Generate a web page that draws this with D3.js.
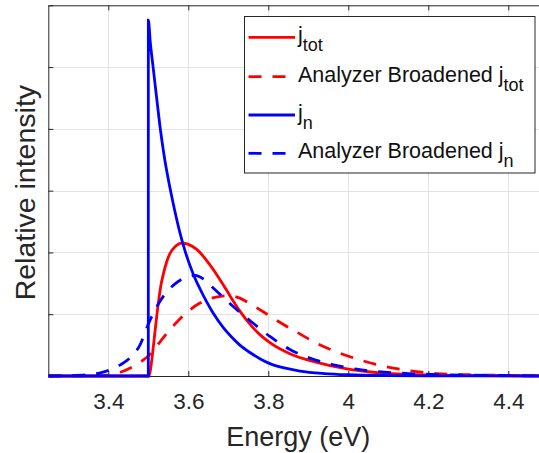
<!DOCTYPE html>
<html>
<head>
<meta charset="utf-8">
<script src="https://cdn.jsdelivr.net/npm/d3@7"></script>
<style>
body { margin: 0; background: #fff; }
svg { display: block; font-family: "Liberation Sans", Arial, Helvetica, sans-serif; }
</style>
</head>
<body>
<div id="chart"></div>
<script>
// values (energy in eV, intensity in axis units)
var jtotEnergy = [3.25, 3.502, 3.508, 3.513, 3.519, 3.525, 3.531, 3.538, 3.546, 3.554, 3.568, 3.583, 3.6, 3.621, 3.654, 3.688, 3.704, 3.729, 3.754, 3.779, 3.804, 3.854, 3.921, 4.0, 4.079, 4.15, 4.25, 4.5];
var jtotValues = [0, 0, 0.22, 0.5, 0.85, 1.18, 1.45, 1.66, 1.85, 1.98, 2.1, 2.15, 2.13, 2.05, 1.8, 1.47, 1.3, 1.05, 0.84, 0.67, 0.54, 0.36, 0.22, 0.11, 0.05, 0.025, 0.01, 0];

var jtotBroadEnergy = [3.25, 3.35, 3.4, 3.43, 3.455, 3.479, 3.504, 3.529, 3.55, 3.571, 3.604, 3.629, 3.654, 3.68, 3.704, 3.729, 3.754, 3.787, 3.821, 3.871, 3.921, 3.979, 4.029, 4.075, 4.137, 4.22, 4.3, 4.4, 4.5];
var jtotBroadValues = [0, 0.005, 0.015, 0.06, 0.13, 0.22, 0.35, 0.55, 0.72, 0.87, 1.07, 1.18, 1.25, 1.29, 1.3, 1.26, 1.17, 1.04, 0.9, 0.71, 0.53, 0.37, 0.26, 0.18, 0.1, 0.04, 0.02, 0.01, 0];

var jnEnergy = [3.25, 3.5, 3.5001, 3.505, 3.512, 3.52, 3.529, 3.54, 3.554, 3.567, 3.579, 3.592, 3.613, 3.63, 3.646, 3.662, 3.688, 3.71, 3.729, 3.754, 3.779, 3.804, 3.84, 3.879, 3.94, 4.0, 4.1, 4.2, 4.5];
var jnValues = [0, 0, 5.76, 5.4, 5.0, 4.55, 4.05, 3.55, 3.05, 2.65, 2.32, 2.02, 1.64, 1.4, 1.2, 1.02, 0.78, 0.62, 0.5, 0.38, 0.28, 0.2, 0.13, 0.08, 0.04, 0.02, 0.007, 0.003, 0];

var jnBroadEnergy = [3.25, 3.3, 3.35, 3.38, 3.405, 3.43, 3.455, 3.479, 3.5, 3.521, 3.546, 3.563, 3.585, 3.604, 3.617, 3.64, 3.663, 3.688, 3.713, 3.738, 3.763, 3.804, 3.854, 3.904, 3.963, 4.021, 4.075, 4.15, 4.25, 4.35, 4.5];
var jnBroadValues = [0, 0.005, 0.02, 0.05, 0.1, 0.18, 0.3, 0.5, 0.84, 1.12, 1.36, 1.47, 1.57, 1.61, 1.63, 1.56, 1.42, 1.27, 1.12, 0.98, 0.85, 0.64, 0.43, 0.29, 0.18, 0.11, 0.07, 0.04, 0.02, 0.01, 0];

var xTicks = [3.4, 3.6, 3.8, 4, 4.2, 4.4];
var xTickLabels = ["3.4", "3.6", "3.8", "4", "4.2", "4.4"];
var yTicks = [0, 1, 2, 3, 4, 5, 6];

var legendMain = ["j", "Analyzer Broadened j", "j", "Analyzer Broadened j"];
var legendSub = ["tot", "tot", "n", "n"];
var seriesColors = ["#ff0000", "#ff0000", "#0000ff", "#0000ff"];
var seriesDashed = [false, true, false, true];

drawChart();

function drawChart() {
    var width = 539, height = 453;
    var plotLeft = 48.3, plotRight = 548.3, plotTop = 5.3, plotBottom = 376;

    var svg = d3.select("#chart").append("svg")
        .attr("width", width)
        .attr("height", height);

    var x = d3.scaleLinear().domain([3.25, 4.5]).range([plotLeft, plotRight]);
    var y = d3.scaleLinear().domain([0, 6]).range([plotBottom, plotTop]);

    // grid
    var grid = svg.append("g").attr("stroke", "#e3e3e3").attr("stroke-width", 1);
    grid.selectAll(".gx").data(xTicks).enter().append("line")
        .attr("x1", d => Math.round(x(d)) + 0.5).attr("x2", d => Math.round(x(d)) + 0.5)
        .attr("y1", y(0)).attr("y2", y(6));
    grid.selectAll(".gy").data(yTicks.slice(1, -1)).enter().append("line")
        .attr("y1", d => Math.round(y(d)) + 0.5).attr("y2", d => Math.round(y(d)) + 0.5)
        .attr("x1", x(3.25)).attr("x2", x(4.5));

    // axes, ticks pointing inwards
    var axisColor = "#262626";
    var xAxis = svg.append("g")
        .attr("transform", "translate(0," + plotBottom + ")")
        .call(d3.axisBottom(x).tickValues(xTicks).tickFormat((d, i) => xTickLabels[i])
            .tickSizeInner(-5).tickSizeOuter(0).tickPadding(17));
    xAxis.attr("color", axisColor);
    xAxis.selectAll("text").attr("font-size", 22.5).attr("font-family", null).attr("fill", "#262626");

    svg.append("g")
        .attr("transform", "translate(0," + plotTop + ")")
        .call(d3.axisTop(x).tickValues(xTicks).tickFormat("").tickSizeInner(-5).tickSizeOuter(0))
        .attr("color", axisColor);

    svg.append("g")
        .attr("transform", "translate(" + plotLeft + ",0)")
        .call(d3.axisLeft(y).tickValues(yTicks).tickFormat("").tickSizeInner(-5).tickSizeOuter(0))
        .attr("color", axisColor);

    svg.append("g")
        .attr("transform", "translate(" + plotRight + ",0)")
        .call(d3.axisRight(y).tickValues(yTicks).tickFormat("").tickSizeInner(-5).tickSizeOuter(0))
        .attr("color", axisColor);

    // axis labels
    svg.append("text")
        .attr("x", (plotLeft + plotRight) / 2).attr("y", 446)
        .attr("text-anchor", "middle")
        .attr("font-size", 27).attr("fill", "#262626")
        .text("Energy (eV)");

    svg.append("text")
        .attr("transform", "translate(35," + ((plotTop + plotBottom) / 2 + 2) + ") rotate(-90)")
        .attr("text-anchor", "middle")
        .attr("font-size", 28.5).attr("fill", "#262626")
        .text("Relative intensity");

    // curves
    svg.append("clipPath").attr("id", "plotclip")
        .append("rect").attr("x", plotLeft).attr("y", plotTop)
        .attr("width", plotRight - plotLeft).attr("height", plotBottom - plotTop + 2);

    var line = d3.line()
        .x(d => x(d[0]))
        .y(d => y(d[1]))
        .curve(d3.curveMonotoneX);

    var series = [
        d3.zip(jtotEnergy, jtotValues),
        d3.zip(jtotBroadEnergy, jtotBroadValues),
        d3.zip(jnEnergy, jnValues),
        d3.zip(jnBroadEnergy, jnBroadValues)
    ];

    svg.append("g").attr("clip-path", "url(#plotclip)")
        .selectAll("path").data(series).enter().append("path")
        .attr("d", line)
        .attr("fill", "none")
        .attr("stroke", (d, i) => seriesColors[i])
        .attr("stroke-width", 2.8)
        .attr("stroke-dasharray", (d, i) => seriesDashed[i] ? "13,11" : null);

    // legend
    var legendRows = [37.3, 76.7, 115, 153.3];
    var legend = svg.append("g");
    legend.append("rect")
        .attr("x", 244.5).attr("y", 16.5).attr("width", 290.5).attr("height", 156.5)
        .attr("fill", "#fff").attr("stroke", axisColor).attr("stroke-width", 1);

    var rows = legend.selectAll(".row").data(legendMain).enter().append("g")
        .attr("transform", (d, i) => "translate(0," + legendRows[i] + ")");
    rows.append("line")
        .attr("x1", 248.5).attr("x2", 295)
        .attr("stroke", (d, i) => seriesColors[i])
        .attr("stroke-width", 2.8)
        .attr("stroke-dasharray", (d, i) => seriesDashed[i] ? "13,11" : null);
    var label = rows.append("text")
        .attr("x", 298).attr("y", 5)
        .attr("font-size", 21.5).attr("fill", "#111");
    label.append("tspan").text(d => d);
    label.append("tspan").attr("font-size", 18).attr("dy", 9).text((d, i) => legendSub[i]);
}
</script>
</body>
</html>
